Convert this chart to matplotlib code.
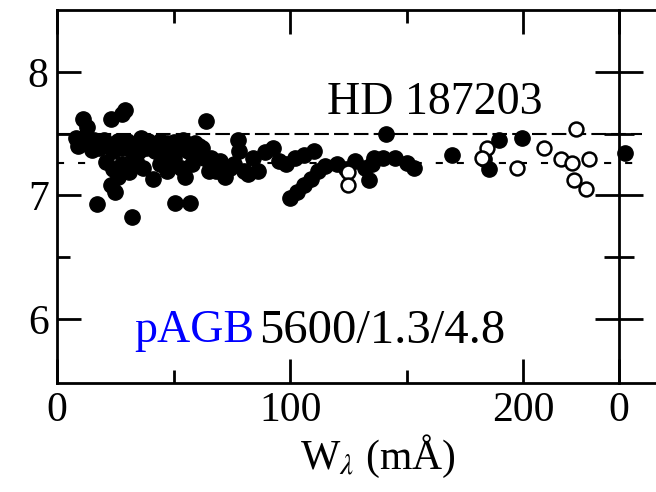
import matplotlib
matplotlib.use('Agg')
import matplotlib.pyplot as plt

# Abundance vs equivalent width, HD 187203
filled_w = [11, 13, 23, 28, 29,
            8, 10, 12, 14, 16, 18, 20, 22, 24, 26, 28, 30, 32, 34, 36, 38, 40,
            42, 44, 46, 48, 50, 52, 54, 56, 58, 60, 62,
            9, 15, 19, 25, 31, 35, 39, 43, 47, 51, 55, 59,
            21, 24, 26, 23, 25, 28, 31, 34, 37, 41, 17, 32, 44, 46,
            50.5, 57, 64,
            47, 50, 53, 55, 58, 61, 63, 65,
            68, 72, 76, 77.5, 80, 84, 86, 89, 78, 82, 70, 66, 74,
            92.5, 95, 98, 102, 106, 110, 100, 103, 106, 109, 112, 115,
            120, 124, 128, 132, 135, 141, 136, 140, 145, 150, 153, 134,
            169.6, 189.7, 183, 185.4, 199.6, 243.7]
filled_ab = [7.62, 7.55, 7.62, 7.66, 7.69,
             7.46, 7.42, 7.47, 7.41, 7.45, 7.38, 7.45, 7.40, 7.36, 7.44, 7.38, 7.44, 7.35, 7.41, 7.46, 7.38, 7.42,
             7.36, 7.44, 7.40, 7.35, 7.43, 7.38, 7.45, 7.36, 7.41, 7.33, 7.38,
             7.40, 7.37, 7.42, 7.40, 7.39, 7.36, 7.44, 7.39, 7.42, 7.37, 7.40, 7.42,
             7.27, 7.21, 7.15, 7.08, 7.03, 7.25, 7.19, 7.28, 7.22, 7.13, 6.93, 6.82, 7.25, 7.30,
             6.94, 6.94, 7.60,
             7.20, 7.30, 7.22, 7.15, 7.25, 7.40, 7.30, 7.20,
             7.20, 7.15, 7.25, 7.45, 7.20, 7.30, 7.20, 7.35, 7.36, 7.17, 7.28, 7.30, 7.22,
             7.38, 7.28, 7.25, 7.30, 7.33, 7.36, 6.98, 7.03, 7.08, 7.13, 7.20, 7.24,
             7.25, 7.21, 7.28, 7.22, 7.25, 7.50, 7.30, 7.30, 7.30, 7.26, 7.22, 7.12,
             7.33, 7.45, 7.29, 7.21, 7.46, 7.34]

open_w = [125, 125, 184.6, 182.4, 197.4, 209, 216.3, 221, 222.7, 228.3, 221.8, 227]
open_ab = [7.19, 7.08, 7.38, 7.30, 7.22, 7.38, 7.29, 7.26, 7.54, 7.29, 7.12, 7.05]

mean_ab = 7.5
alt_ab = 7.26

plt.rcParams['font.family'] = ['Liberation Serif', 'DejaVu Serif']
plt.rcParams['mathtext.fontset'] = 'stix'

fig = plt.figure(figsize=(6.56, 4.92), dpi=100)
ax = fig.add_axes([57 / 656, 1 - 383 / 492, 562 / 656, 373 / 492])

ax.plot([0, 251], [mean_ab, mean_ab], color='black', lw=1.5,
        dashes=(7, 2.5), clip_on=False, zorder=1)
ax.plot([0, 251], [alt_ab, alt_ab], color='black', lw=1.5,
        dashes=(3.4, 6.7), clip_on=False, zorder=1)

ax.plot(filled_w, filled_ab, 'o', color='black', ms=11, clip_on=False, zorder=2)
ax.plot(open_w, open_ab, 'o', mfc='white', mec='black', ms=10, mew=1.8,
        clip_on=False, zorder=3)

ax.set_xlim(0, 241)
ax.set_ylim(5.48, 8.5)

for s in ax.spines.values():
    s.set_linewidth(2)
ax.spines['right'].set_visible(False)

# top and bottom frame continue into the next panel
ax.plot([1, 1.07], [0, 0], transform=ax.transAxes, color='black',
        lw=2, clip_on=False)
ax.plot([1, 1.07], [1, 1], transform=ax.transAxes, color='black',
        lw=2, clip_on=False)

ax.set_xticks([0, 100, 200, 241])
ax.set_xticklabels(['0', '100', '200', '0'])
ax.set_xticks([50, 150], minor=True)
ax.set_yticks([6, 7, 8])
ax.set_yticks([6.5, 7.5], minor=True)
ax.tick_params(which='both', direction='in', top=True, right=False, width=2,
               labelsize=30, pad=6)
ax.tick_params(which='major', length=17)
ax.tick_params(which='minor', length=9.5)

# right axis belongs to the neighbouring panel, ticks cross it
ax2 = ax.twinx()
ax2.set_ylim(ax.get_ylim())
ax2.set_yticks([6, 7, 8])
ax2.set_yticks([6.5, 7.5], minor=True)
ax2.tick_params(which='both', direction='inout', width=2, labelright=False)
ax2.tick_params(which='major', length=35)
ax2.tick_params(which='minor', length=21)
for s in ax2.spines.values():
    s.set_visible(False)
ax2.spines['right'].set_visible(True)
ax2.spines['right'].set_linewidth(2)

ax.text(162, 7.75, 'HD 187203', fontsize=33, ha='center', va='center')
ax.text(33, 5.9, 'pAGB', color='blue', fontsize=33, ha='left', va='center')
ax.text(86.5, 5.9, '5600/1.3/4.8', color='black', fontsize=35, ha='left', va='center')

fig.text(378 / 656, 1 - 456 / 492, r'W$_\lambda$ (mÅ)', fontsize=30,
         ha='center', va='center')

fig.savefig('out.png', dpi=100)
